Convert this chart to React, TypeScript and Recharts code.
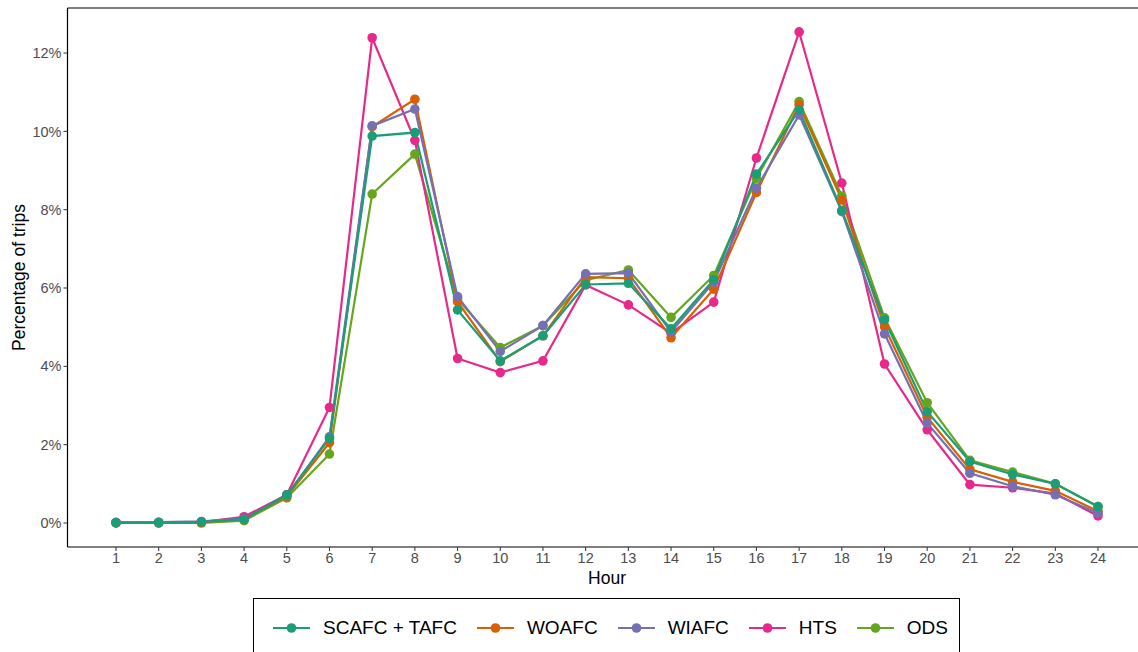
import React from "react";
import {
  LineChart,
  Line,
  XAxis,
  YAxis,
  Legend,
  ReferenceLine,
} from "recharts";

const HOURS = [1, 2, 3, 4, 5, 6, 7, 8, 9, 10, 11, 12, 13, 14, 15, 16, 17, 18, 19, 20, 21, 22, 23, 24];

// share of trips per hour (%)
const SCAFC = [0.01, 0.01, 0.03, 0.09, 0.72, 2.16, 9.88, 9.97, 5.44, 4.14, 4.78, 6.09, 6.12, 4.96, 6.21, 8.91, 10.55, 7.98, 5.19, 2.84, 1.57, 1.24, 1.0, 0.42];
const WOAFC = [0.01, 0.01, 0.02, 0.1, 0.68, 2.05, 10.12, 10.82, 5.65, 4.12, 4.78, 6.28, 6.25, 4.73, 5.97, 8.44, 10.68, 8.25, 5.01, 2.7, 1.37, 1.05, 0.82, 0.3];
const WIAFC = [0.01, 0.02, 0.04, 0.11, 0.7, 2.2, 10.14, 10.57, 5.78, 4.38, 5.04, 6.36, 6.38, 4.88, 6.15, 8.55, 10.42, 7.95, 4.83, 2.55, 1.27, 0.94, 0.72, 0.25];
const HTS = [0.01, 0.01, 0.02, 0.16, 0.72, 2.95, 12.39, 9.77, 4.2, 3.84, 4.14, 6.08, 5.57, 4.85, 5.64, 9.32, 12.54, 8.68, 4.06, 2.38, 0.98, 0.9, 0.75, 0.18];
const ODS = [0.0, 0.0, 0.0, 0.06, 0.64, 1.76, 8.4, 9.42, 5.72, 4.48, 5.04, 6.2, 6.46, 5.25, 6.32, 8.8, 10.76, 8.35, 5.24, 3.07, 1.6, 1.3, 1.0, 0.42];

const Y_TICKS = [0, 2, 4, 6, 8, 10, 12];

// legend order
const SERIES = [
  { key: "scafc", name: "SCAFC + TAFC", color: "#1B9E77", values: SCAFC },
  { key: "woafc", name: "WOAFC", color: "#D95F02", values: WOAFC },
  { key: "wiafc", name: "WIAFC", color: "#7570B3", values: WIAFC },
  { key: "hts", name: "HTS", color: "#E7298A", values: HTS },
  { key: "ods", name: "ODS", color: "#66A61E", values: ODS },
];

// drawing order (last one ends up on top)
const DRAW_ORDER = ["ods", "hts", "woafc", "wiafc", "scafc"];

const FONT = '"Liberation Sans", Arial, Helvetica, sans-serif';
const Y_MIN = -0.613;
const Y_MAX = 13.15;

const data = HOURS.map((hour, i) => {
  const row: Record<string, number> = { hour };
  SERIES.forEach((s) => {
    row[s.key] = s.values[i];
  });
  return row;
});

function LegendBox() {
  return (
    <div
      style={{
        boxSizing: "border-box",
        height: 60,
        width: 707,
        border: "1px solid #000",
        display: "flex",
        alignItems: "center",
        paddingLeft: 19,
        fontFamily: FONT,
        fontSize: 19,
        color: "#000",
      }}
    >
      {SERIES.map((s, idx) => (
        <div
          key={s.key}
          style={{ display: "flex", alignItems: "center", marginLeft: idx === 0 ? 0 : 20 }}
        >
          <svg width={37} height={12} style={{ display: "block" }}>
            <line x1={0} y1={6} x2={37} y2={6} stroke={s.color} strokeWidth={2.2} />
            <circle cx={18.5} cy={6} r={4.8} fill={s.color} />
          </svg>
          <span style={{ marginLeft: 13, whiteSpace: "nowrap" }}>{s.name}</span>
        </div>
      ))}
    </div>
  );
}

export default function App() {
  return (
    <div
      style={{
        position: "absolute",
        left: 0,
        top: 0,
        width: 1138,
        height: 652,
        overflow: "hidden",
        background: "#fff",
      }}
    >
      <LineChart
        width={1150}
        height={660}
        data={data}
        margin={{ top: 8, right: 3.5, bottom: 13, left: 7.5 }}
      >
        <ReferenceLine y={Y_MAX} stroke="#000" strokeWidth={1.2} ifOverflow="extendDomain" />
        <XAxis
          dataKey="hour"
          type="number"
          domain={[-0.136, 25.136]}
          ticks={HOURS}
          interval={0}
          allowDataOverflow
          height={40}
          tickSize={4}
          tickMargin={2}
          axisLine={{ stroke: "#000", strokeWidth: 1.2 }}
          tickLine={{ stroke: "#333" }}
          tick={{ fill: "#4d4d4d", fontSize: 14.5, fontFamily: FONT }}
          label={({ viewBox }: any) => (
            <text
              x={viewBox.x + viewBox.width / 2}
              y={viewBox.y + 37}
              textAnchor="middle"
              fontSize={17.5}
              fontFamily={FONT}
              fill="#000"
            >
              Hour
            </text>
          )}
        />
        <YAxis
          type="number"
          domain={[Y_MIN, Y_MAX]}
          ticks={Y_TICKS}
          allowDataOverflow
          width={60}
          tickSize={4}
          tickMargin={2}
          axisLine={{ stroke: "#000", strokeWidth: 1.2 }}
          tickLine={{ stroke: "#333" }}
          tick={{ fill: "#4d4d4d", fontSize: 14.5, fontFamily: FONT }}
          tickFormatter={(v: number) => `${v}%`}
          label={({ viewBox }: any) => {
            const cx = viewBox.x + 11;
            const cy = viewBox.y + viewBox.height / 2;
            return (
              <text
                x={cx}
                y={cy}
                transform={`rotate(-90 ${cx} ${cy})`}
                textAnchor="middle"
                dominantBaseline="central"
                fontSize={17.5}
                fontFamily={FONT}
                fill="#000"
              >
                Percentage of trips
              </text>
            );
          }}
        />
        {DRAW_ORDER.map((k) => {
          const s = SERIES.find((x) => x.key === k)!;
          return (
            <Line
              key={s.key}
              dataKey={s.key}
              name={s.name}
              type="linear"
              stroke={s.color}
              strokeWidth={2.2}
              dot={{ r: 4.8, fill: s.color, stroke: s.color, strokeWidth: 0 }}
              activeDot={false}
              isAnimationActive={false}
            />
          );
        })}
        <Legend
          content={() => <LegendBox />}
          wrapperStyle={{ top: 598, left: 253, width: 707, height: 60 }}
        />
      </LineChart>
    </div>
  );
}
